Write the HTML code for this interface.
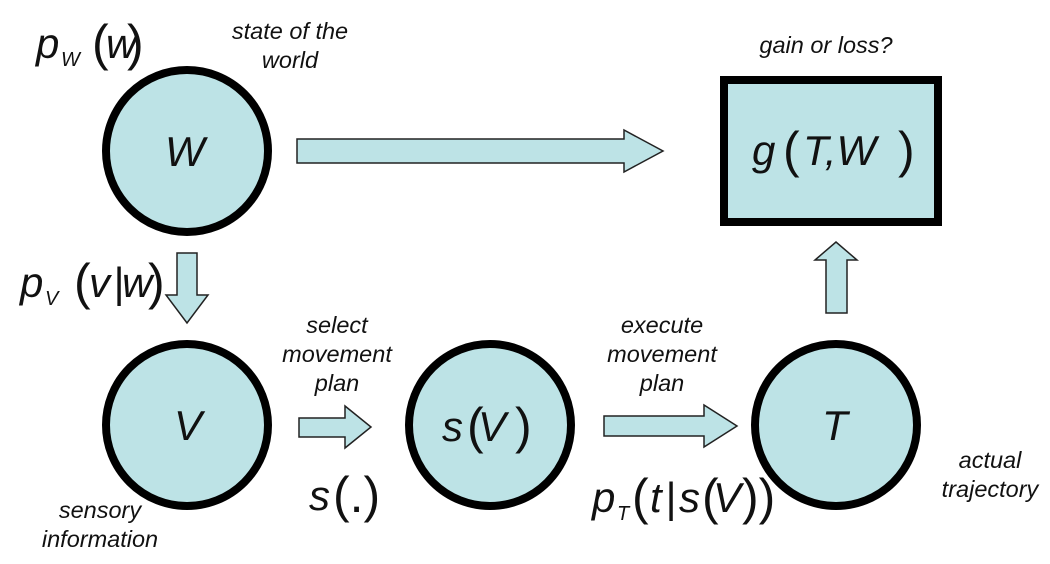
<!DOCTYPE html>
<html><head><meta charset="utf-8"><style>
body{margin:0;background:#fff;}
svg{display:block;}
text{font-family:"Liberation Sans",sans-serif;font-style:italic;fill:#111;}
.l{font-size:23.5px;}
.m{font-size:42px;}
.p{font-style:normal;font-size:50px;}
</style></head><body>
<svg width="1050" height="564" viewBox="0 0 1050 564" xmlns="http://www.w3.org/2000/svg">
<g fill="#bde3e6" stroke="#000" stroke-width="8">
<circle cx="187" cy="151" r="81"/>
<circle cx="187" cy="425" r="81"/>
<circle cx="490" cy="425" r="81"/>
<circle cx="836" cy="425" r="81"/>
<rect x="724" y="80" width="214" height="142"/>
</g>
<g fill="#bde3e6" stroke="#222" stroke-width="1.5">
<polygon points="297,139 624,139 624,130 663,151 624,172 624,163 297,163"/>
<polygon points="177,253 197,253 197,295 208,295 187,323 166,295 177,295"/>
<polygon points="826,313 847,313 847,260 857,260 836,242 815,260 826,260"/>
<polygon points="299,418 345,418 345,406 371,427 345,448 345,437 299,437"/>
<polygon points="604,416 704,416 704,405 737,426 704,447 704,436 604,436"/>
</g>
<g class="m">
<text x="165" y="166">W</text>
<text x="174" y="440">V</text>
<text x="822" y="440">T</text>
<!-- s(V) -->
<text x="442" y="441">s</text><text class="p" x="467" y="443">(</text><text x="478" y="441">V</text><text class="p" x="515" y="443">)</text>
<!-- g(T,W) -->
<text x="752" y="165">g</text><text class="p" x="783" y="167">(</text><text x="803" y="165">T,W</text><text class="p" x="898" y="167">)</text>
<!-- pW(w) -->
<text x="36" y="58">p</text><text font-size="20" x="61" y="66">W</text><text class="p" x="92" y="60">(</text><text x="106" y="58">w</text><text class="p" x="127" y="60">)</text>
<!-- pV(v|w) -->
<text x="20" y="297">p</text><text font-size="20" x="45" y="305">V</text><text class="p" x="74" y="299">(</text><text x="89" y="297">v</text><text x="113" y="297" font-style="normal">|</text><text x="122" y="297">w</text><text class="p" x="148" y="299">)</text>
<!-- s(.) -->
<text x="309" y="510">s</text><text class="p" x="333" y="512">(.)</text>
<!-- pT(t|s(V)) -->
<text x="592" y="512">p</text><text font-size="20" x="617" y="520">T</text><text class="p" x="632" y="514">(</text><text x="650" y="512">t</text><text x="665" y="512" font-style="normal">|</text><text x="679" y="512">s</text><text class="p" x="702" y="514">(</text><text x="713" y="512">V</text><text class="p" x="742" y="514">))</text>
</g>
<g class="l" text-anchor="middle">
<text x="290" y="39">state of the</text>
<text x="290" y="68">world</text>
<text x="826" y="53">gain or loss?</text>
<text x="337" y="333">select</text>
<text x="337" y="362">movement</text>
<text x="337" y="391">plan</text>
<text x="662" y="333">execute</text>
<text x="662" y="362">movement</text>
<text x="662" y="391">plan</text>
<text x="990" y="468">actual</text>
<text x="990" y="497">trajectory</text>
<text x="100" y="518">sensory</text>
<text x="100" y="547">information</text>
</g>
</svg>
</body></html>
